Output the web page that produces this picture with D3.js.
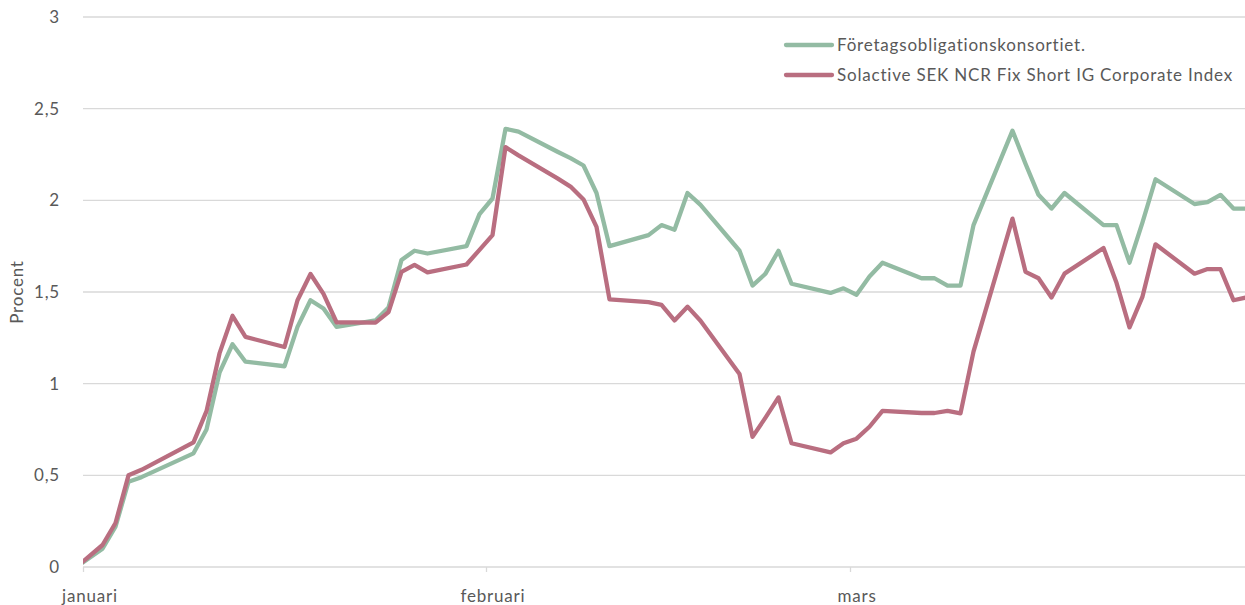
<!DOCTYPE html>
<html>
<head>
<meta charset="utf-8">
<script src="https://cdn.jsdelivr.net/npm/d3@7"></script>
<style>
  body { margin: 0; background: #fff; }
  svg { display: block; font-family: Lato, "Open Sans", sans-serif; }
  .grid line { stroke: #d9d9d9; stroke-width: 1.3; }
  .axis text, .label { fill: #595959; font-size: 17px; letter-spacing: 0.8px; }
</style>
</head>
<body>
<svg id="chart" width="1245" height="605"></svg>
<script>
var dates = ["2022-12-31","2023-01-02","2023-01-03","2023-01-04","2023-01-05","2023-01-09","2023-01-10","2023-01-11","2023-01-12","2023-01-13",
  "2023-01-16","2023-01-17","2023-01-18","2023-01-19","2023-01-20","2023-01-23","2023-01-24","2023-01-25","2023-01-26","2023-01-27",
  "2023-01-30","2023-01-31","2023-02-01","2023-02-02","2023-02-03","2023-02-06","2023-02-07","2023-02-08","2023-02-09","2023-02-10",
  "2023-02-13","2023-02-14","2023-02-15","2023-02-16","2023-02-17","2023-02-20","2023-02-21","2023-02-22","2023-02-23","2023-02-24",
  "2023-02-27","2023-02-28","2023-03-01","2023-03-02","2023-03-03","2023-03-06","2023-03-07","2023-03-08","2023-03-09","2023-03-10",
  "2023-03-13","2023-03-14","2023-03-15","2023-03-16","2023-03-17","2023-03-20","2023-03-21","2023-03-22","2023-03-23","2023-03-24",
  "2023-03-27","2023-03-28","2023-03-29","2023-03-30","2023-03-31"];

var konsortiet = [0, 0.10, 0.22, 0.465, 0.49, 0.62, 0.75, 1.06, 1.215, 1.12,
  1.095, 1.31, 1.455, 1.41, 1.31, 1.345, 1.415, 1.675, 1.725, 1.71,
  1.75, 1.925, 2.01, 2.39, 2.375, 2.265, 2.23, 2.19, 2.04, 1.75,
  1.81, 1.865, 1.84, 2.04, 1.975, 1.725, 1.535, 1.60, 1.725, 1.545,
  1.495, 1.52, 1.485, 1.585, 1.66, 1.575, 1.575, 1.535, 1.535, 1.865,
  2.38, 2.2, 2.03, 1.955, 2.04, 1.865, 1.865, 1.66, 1.88, 2.115,
  1.98, 1.99, 2.03, 1.955, 1.955];

var solactive = [0, 0.12, 0.24, 0.50, 0.53, 0.68, 0.85, 1.165, 1.37, 1.255,
  1.20, 1.455, 1.598, 1.49, 1.335, 1.333, 1.39, 1.61, 1.648, 1.607,
  1.65, 1.73, 1.81, 2.29, 2.245, 2.12, 2.075, 2.005, 1.855, 1.46,
  1.445, 1.43, 1.345, 1.42, 1.343, 1.053, 0.71, 0.815, 0.925, 0.675,
  0.625, 0.675, 0.70, 0.765, 0.852, 0.84, 0.84, 0.852, 0.838, 1.175,
  1.90, 1.61, 1.575, 1.47, 1.60, 1.74, 1.55, 1.307, 1.475, 1.76,
  1.60, 1.625, 1.625, 1.455, 1.47];

var seriesNames = ["Företagsobligationskonsortiet.", "Solactive SEK NCR Fix Short IG Corporate Index"];
var seriesColors = ["#93bba3", "#b96e80"];
var monthLabels = ["januari", "februari", "mars"];
var yTicks = [0, 0.5, 1, 1.5, 2, 2.5, 3];

function draw_chart() {
    var parse = d3.timeParse("%Y-%m-%d");
    var svg = d3.select("#chart");
    var plotLeft = 83, plotRight = 1245, plotTop = 17, plotBottom = 567;

    // one day is one slot on the date axis, points sit in the middle of it
    var start = new Date(2023, 0, 1), end = new Date(2023, 3, 1);
    var x = d3.scaleTime().domain([start, end]).range([plotLeft, plotLeft + 90 * 13]);
    var y = d3.scaleLinear().domain([0, 3]).range([plotBottom, plotTop]);
    function mid(d) { return x(d3.timeHour.offset(d, 12)); }

    svg.append("defs").append("clipPath").attr("id", "plot")
      .append("rect").attr("x", plotLeft).attr("y", 0)
      .attr("width", plotRight - plotLeft).attr("height", 605);

    svg.append("g").attr("class", "grid")
      .selectAll("line").data(yTicks.slice(1)).enter().append("line")
      .attr("x1", plotLeft).attr("x2", plotRight)
      .attr("y1", function(d) { return y(d); }).attr("y2", function(d) { return y(d); });

    var yAxis = svg.append("g").attr("class", "axis")
      .attr("transform", "translate(" + (plotLeft - 20) + ",0)")
      .call(d3.axisLeft(y).tickValues(yTicks).tickSize(0)
        .tickFormat(function(d) { return String(d).replace(".", ","); }));
    yAxis.select(".domain").remove();

    var months = d3.timeMonth.range(start, end);
    var xAxis = svg.append("g").attr("class", "axis")
      .attr("transform", "translate(0," + plotBottom + ")")
      .call(d3.axisBottom(x).tickValues(months).tickSize(5).tickPadding(18)
        .tickFormat(function(d, i) { return monthLabels[i]; }));
    xAxis.attr("font-family", null).attr("font-size", null);
    yAxis.attr("font-family", null).attr("font-size", null);
    xAxis.select(".domain").attr("stroke", "#d9d9d9").attr("stroke-width", 1.3)
      .attr("d", "M" + plotLeft + ",0H" + plotRight);
    xAxis.selectAll(".tick line").attr("stroke", "#d9d9d9").attr("stroke-width", 1.3);
    xAxis.selectAll(".tick text").attr("dx", function(d) { return mid(d) - x(d); });

    svg.append("text").attr("class", "label")
      .attr("transform", "translate(23," + ((plotTop + plotBottom) / 2) + ") rotate(-90)")
      .attr("text-anchor", "middle")
      .text("Procent");

    var line = d3.line()
      .x(function(d) { return mid(d[0]); })
      .y(function(d) { return y(d[1]); });

    var parsed = dates.map(parse);
    [konsortiet, solactive].forEach(function(values, i) {
        svg.append("path")
          .datum(d3.zip(parsed, values))
          .attr("clip-path", "url(#plot)")
          .attr("fill", "none")
          .attr("stroke", seriesColors[i])
          .attr("stroke-width", 4.3)
          .attr("stroke-linejoin", "round")
          .attr("d", line);
    });

    var legend = svg.append("g").attr("transform", "translate(786,45)");
    seriesNames.forEach(function(name, i) {
        var row = legend.append("g").attr("transform", "translate(0," + (i * 30) + ")");
        row.append("line").attr("x1", 0).attr("x2", 46)
          .attr("stroke", seriesColors[i]).attr("stroke-width", 4.3).attr("stroke-linecap", "round");
        row.append("text").attr("class", "label").attr("x", 51).attr("dy", "0.35em").text(name);
    });
}

draw_chart();
</script>
</body>
</html>
